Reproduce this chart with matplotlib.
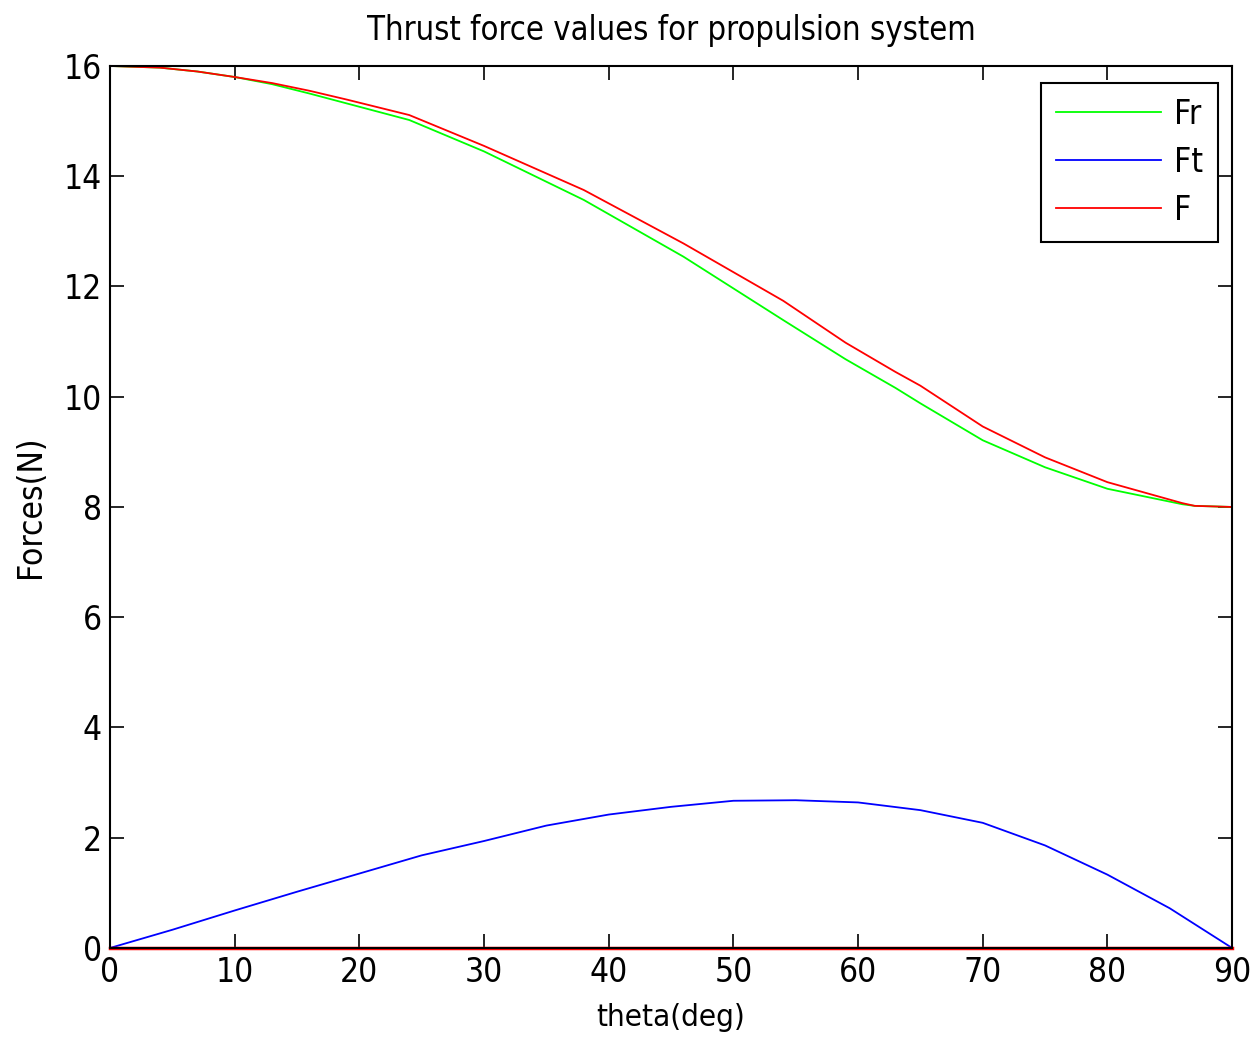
import matplotlib
matplotlib.use("Agg")
import matplotlib.pyplot as plt
import numpy as np

# values
theta_F = [0, 4, 7, 10, 13, 16, 19, 24, 30, 38, 46, 54, 59, 63, 65, 70, 75, 80, 86, 87, 90]
F_red = [16.0, 15.97, 15.9, 15.8, 15.69, 15.55, 15.39, 15.11, 14.55, 13.75, 12.78, 11.74,
         10.98, 10.45, 10.2, 9.46, 8.9, 8.45, 8.07, 8.02, 8.0]
theta_Fr = [0, 4, 7, 10, 13, 16, 19, 24, 30, 38, 46, 54, 59, 63, 65, 70, 75, 80, 86, 87, 90]
Fr_green = [16.0, 15.97, 15.9, 15.8, 15.67, 15.5, 15.32, 15.02, 14.45, 13.57, 12.54, 11.39,
            10.68, 10.16, 9.88, 9.21, 8.72, 8.33, 8.05, 8.02, 8.0]
theta_Ft = [0, 5, 10, 15, 20, 25, 30, 35, 40, 45, 50, 55, 60, 65, 70, 75, 80, 85, 90]
Ft_blue = [0.0, 0.33, 0.68, 1.02, 1.35, 1.68, 1.94, 2.22, 2.42, 2.56, 2.67, 2.68, 2.64,
           2.5, 2.27, 1.86, 1.33, 0.72, 0.0]
theta_zero = [0, 90]
zero_line = [0.0, 0.0]

legend_labels = ["Fr", "Ft", "F"]
TITLE = "Thrust force values for propulsion system"

plt.rcParams["font.family"] = ["DejaVu Sans"]
plt.rcParams["font.stretch"] = "condensed"

fig = plt.figure(figsize=(12.59, 10.44), dpi=100)
ax = fig.add_axes([0.0874, 0.092, 0.8912, 0.8448])

ax.plot(theta_Fr, Fr_green, color="#00ff00", linewidth=1.3, label=legend_labels[0])
ax.plot(theta_Ft, Ft_blue, color="#0000ff", linewidth=1.3, label=legend_labels[1])
ax.plot(theta_F, F_red, color="#ff0000", linewidth=1.3, label=legend_labels[2])
ax.plot(theta_zero, zero_line, color="#ff0000", linewidth=2.5, clip_on=False)

ax.set_xlim(0, 90)
ax.set_ylim(0, 16)
ax.set_xticks(np.arange(0, 91, 10))
ax.set_yticks(np.arange(0, 17, 2))
ax.tick_params(direction="in", length=10, width=1.2, top=True, right=True,
               labelsize=24, pad=6)
for spine in ax.spines.values():
    spine.set_linewidth(1.5)

ax.set_title(TITLE, fontsize=23.5, pad=19)
ax.set_xlabel("theta(deg)", fontsize=22.5, labelpad=10)
ax.set_ylabel("Forces(N)", fontsize=24, labelpad=12)

leg = ax.legend(loc="upper right", bbox_to_anchor=(0.9875, 0.9807), borderaxespad=0,
                fontsize=24, fancybox=False, framealpha=1, edgecolor="black",
                handlelength=3.15, handletextpad=0.4, borderpad=0.45, labelspacing=0.45)
leg.get_frame().set_linewidth(1.5)

plt.savefig("out.png", dpi=100)
